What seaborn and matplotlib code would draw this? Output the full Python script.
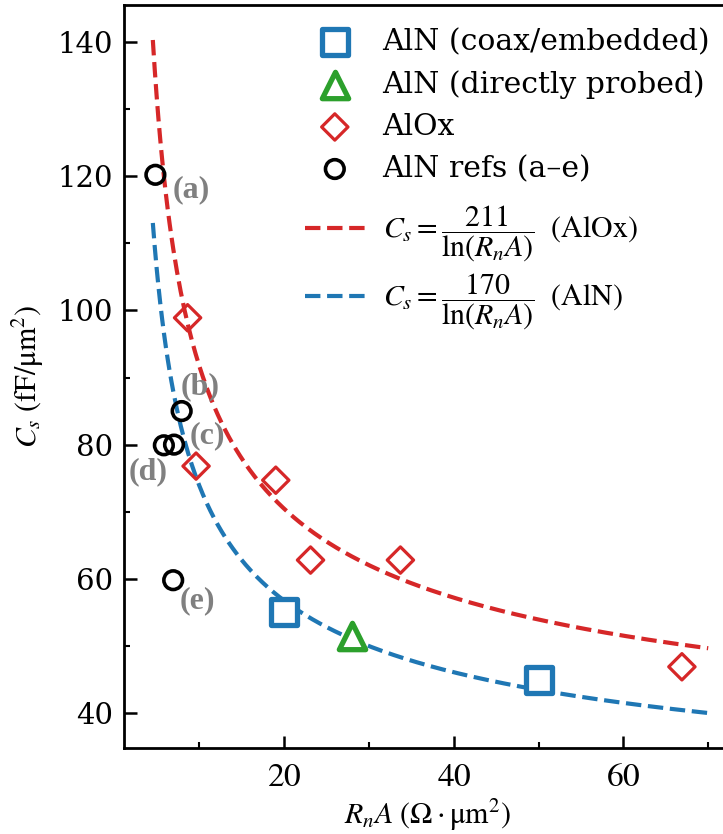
import numpy as np
import pandas as pd
import matplotlib
matplotlib.use("Agg")
import matplotlib.pyplot as plt
import seaborn as sns
from matplotlib.ticker import MultipleLocator, FuncFormatter

# ---- data ----
coax_x = [20, 50]
coax_y = [55, 45]
probed_x = [28]
probed_y = [51.5]
alox_x = [8.6, 9.6, 19.0, 23.1, 33.7, 66.9]
alox_y = [98.9, 76.8, 74.7, 62.8, 62.8, 46.9]
refs_x = [4.8, 7.9, 5.8, 7.0, 6.9]
refs_y = [120.2, 85.0, 79.9, 80.0, 59.8]
ref_labels = ["(a)", "(b)", "(c)", "(d)", "(e)"]
ref_label_x = [9.0, 10.1, 10.9, 4.0, 9.7]
ref_label_y = [118.0, 88.7, 81.3, 75.9, 56.8]
k_alox = 211
k_aln = 170
fit_x = np.linspace(4.5, 70, 300)

sns.set_theme(style="ticks")
plt.rcParams.update({
    "font.family": ["DejaVu Serif"],
    "mathtext.fontset": "stix",
    "font.size": 21,
    "text.color": "black",
    "axes.labelcolor": "black",
    "axes.edgecolor": "black",
    "xtick.color": "black",
    "ytick.color": "black",
    "xtick.direction": "in",
    "ytick.direction": "in",
    "axes.linewidth": 2.0,
    "xtick.major.width": 1.8,
    "ytick.major.width": 1.8,
    "xtick.minor.width": 1.5,
    "ytick.minor.width": 1.5,
    "xtick.major.size": 9,
    "ytick.major.size": 9,
    "xtick.minor.size": 4.5,
    "ytick.minor.size": 4.5,
})

W, H = 723, 834
fig = plt.figure(figsize=(W / 100, H / 100), dpi=100)
ax = fig.add_axes([124 / W, 1 - 748 / H, 1 - 124 / W + 0.01, (748 - 5) / H])

fit_df = pd.DataFrame({
    "x": np.concatenate([fit_x, fit_x]),
    "y": np.concatenate([k_alox / np.log(fit_x), k_aln / np.log(fit_x)]),
    "fit": ["alox"] * len(fit_x) + ["aln"] * len(fit_x),
})
red = "#d62728"
blue = "#1f77b4"
green = "#2ca02c"

lab_alox = r"$C_s = \dfrac{211}{\ln(R_nA)}\ \ \mathrm{(AlOx)}$"
lab_aln = r"$C_s = \dfrac{170}{\ln(R_nA)}\ \ \mathrm{(AlN)}$"

sns.lineplot(data=fit_df[fit_df.fit == "alox"], x="x", y="y", color=red, lw=3,
             linestyle="--", ax=ax, label=lab_alox)
sns.lineplot(data=fit_df[fit_df.fit == "aln"], x="x", y="y", color=blue, lw=3,
             linestyle="--", ax=ax, label=lab_aln)

sns.scatterplot(x=coax_x, y=coax_y, marker="s", s=340, facecolor="white",
                edgecolor=blue, linewidth=3.8, ax=ax, label="AlN (coax/embedded)", zorder=5)
sns.scatterplot(x=probed_x, y=probed_y, marker="^", s=360, facecolor="white",
                edgecolor=green, linewidth=3.8, ax=ax, label="AlN (directly probed)", zorder=5)
sns.scatterplot(x=alox_x, y=alox_y, marker="D", s=180, facecolor="none",
                edgecolor=red, linewidth=2.3, ax=ax, label="AlOx", zorder=5)
sns.scatterplot(x=refs_x, y=refs_y, marker="o", s=180, facecolor="none",
                edgecolor="black", linewidth=2.6, ax=ax, label="AlN refs (a\u2013e)", zorder=5)

for t, tx, ty in zip(ref_labels, ref_label_x, ref_label_y):
    ax.text(tx, ty, t, color="gray", fontweight="bold", family="Liberation Serif",
            fontsize=23, ha="center", va="center")

ax.set_xlim(1.1, 72.6)
ax.set_ylim(34.8, 145.5)
ax.xaxis.set_major_locator(MultipleLocator(20))
ax.xaxis.set_minor_locator(MultipleLocator(10))
ax.yaxis.set_major_locator(MultipleLocator(20))
ax.yaxis.set_minor_locator(MultipleLocator(10))
ax.xaxis.set_major_formatter(FuncFormatter(lambda v, p: f"${v:g}$"))
ax.tick_params(axis="y", pad=8, labelsize=21)
ax.tick_params(axis="x", pad=9, labelsize=24)
ax.spines["right"].set_visible(False)

ax.set_xlabel(r"$R_nA\ (\Omega\cdot\mathrm{\mu m^2})$", fontsize=21.5, labelpad=3)
ax.set_ylabel(r"$C_s\ \mathrm{(fF/\mu m^2)}$", fontsize=21.5, labelpad=8)

handles, labels = ax.get_legend_handles_labels()
hmap = dict(zip(labels, handles))
order1 = ["AlN (coax/embedded)", "AlN (directly probed)", "AlOx", "AlN refs (a\u2013e)"]
order2 = [lab_alox, lab_aln]
leg_kw = dict(frameon=False, fontsize=21.5, handlelength=2.0, handletextpad=0.6,
              borderaxespad=0.0, loc="upper left", bbox_transform=fig.transFigure)
leg1 = ax.legend([hmap[l] for l in order1], order1, labelspacing=0.47,
                 bbox_to_anchor=(293 / W, 1 - 16 / H), **leg_kw)
ax.add_artist(leg1)
leg2 = ax.legend([hmap[l] for l in order2], order2, labelspacing=0.27,
                 bbox_to_anchor=(293 / W, 1 - 192 / H), **leg_kw)

fig.savefig("out.png", dpi=100)
